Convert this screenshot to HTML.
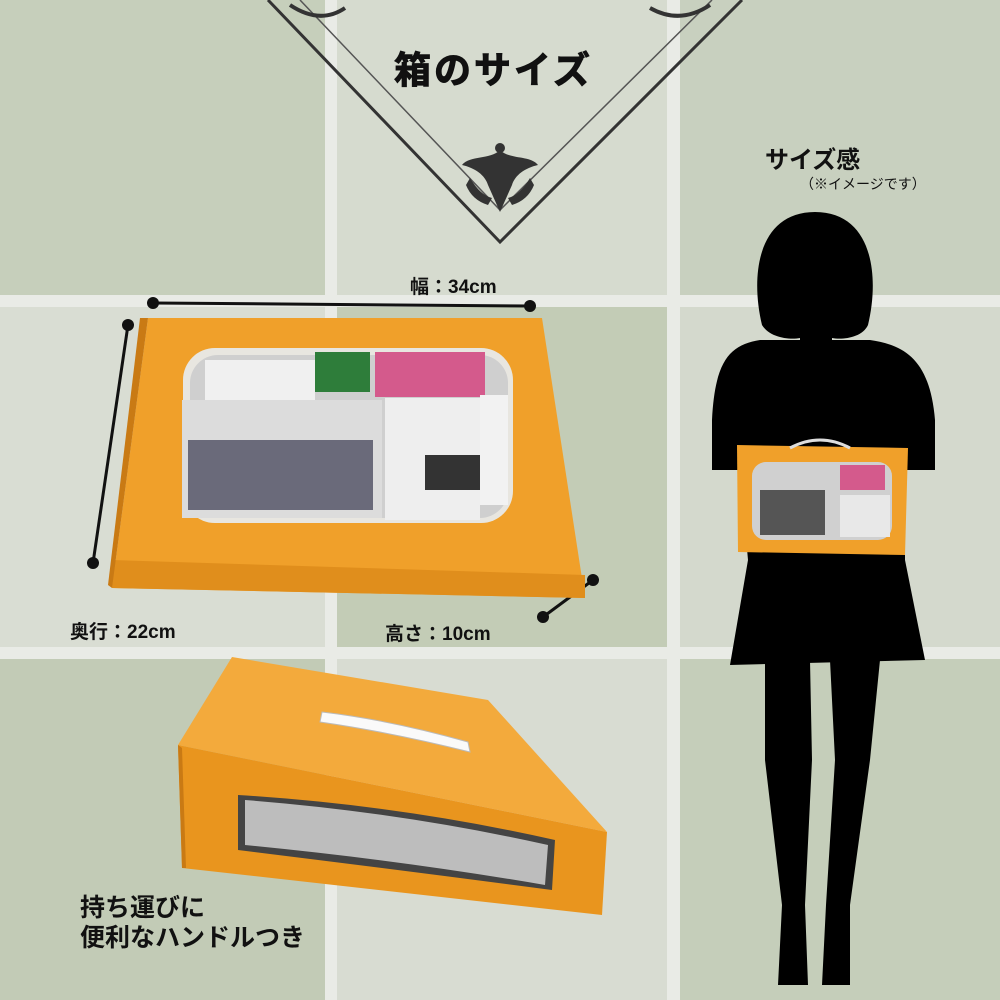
<!DOCTYPE html>
<html><head><meta charset="utf-8"><style>
html,body{margin:0;padding:0}
body{width:1000px;height:1000px;position:relative;overflow:hidden;background:#e9ebe6;font-family:"Liberation Sans","Noto Sans CJK JP",sans-serif}
.t{position:absolute}
.lbl{position:absolute;font-weight:bold;color:#111;white-space:nowrap}
</style></head><body>
<div class="t" style="left:0;top:0;width:325px;height:295px;background:#c6cfbb"></div>
<div class="t" style="left:337px;top:0;width:330px;height:295px;background:#d6dbcf"></div>
<div class="t" style="left:680px;top:0;width:320px;height:295px;background:#c8d0bf"></div>
<div class="t" style="left:0;top:307px;width:325px;height:340px;background:#d9ddd3"></div>
<div class="t" style="left:337px;top:307px;width:330px;height:340px;background:#c3ccb6"></div>
<div class="t" style="left:680px;top:307px;width:320px;height:340px;background:#d4d9cd"></div>
<div class="t" style="left:0;top:659px;width:325px;height:341px;background:#c2cbb6"></div>
<div class="t" style="left:337px;top:659px;width:330px;height:341px;background:#d8dcd2"></div>
<div class="t" style="left:680px;top:659px;width:320px;height:341px;background:#c5ceba"></div>

<svg class="t" style="left:0;top:0" width="1000" height="1000" viewBox="0 0 1000 1000">
 <polyline points="268,0 500,242 742,0" fill="none" stroke="#333" stroke-width="3"/>
 <polyline points="300,0 500,210 712,0" fill="none" stroke="#555" stroke-width="1.5"/>
 <g fill="#333">
  <path d="M500,150 C490,160 470,155 462,165 C475,168 485,175 488,185 L500,212 L512,185 C515,175 525,168 538,165 C530,155 510,160 500,150Z"/>
  <circle cx="500" cy="148" r="5"/>
  <path d="M470,178 Q480,195 492,198 L488,205 Q472,200 466,185Z"/>
  <path d="M530,178 Q520,195 508,198 L512,205 Q528,200 534,185Z"/>
 </g>
 <path d="M290,5 Q320,25 345,8 M650,8 Q680,25 710,5" stroke="#333" stroke-width="4" fill="none"/>
 <line x1="153" y1="303" x2="530" y2="306" stroke="#111" stroke-width="3"/>
 <circle cx="153" cy="303" r="6" fill="#111"/><circle cx="530" cy="306" r="6" fill="#111"/>
 <line x1="128" y1="325" x2="93" y2="563" stroke="#111" stroke-width="3"/>
 <circle cx="128" cy="325" r="6" fill="#111"/><circle cx="93" cy="563" r="6" fill="#111"/>
 <line x1="593" y1="580" x2="543" y2="617" stroke="#111" stroke-width="3"/>
 <circle cx="593" cy="580" r="6" fill="#111"/><circle cx="543" cy="617" r="6" fill="#111"/>
 <polygon points="148,318 542,318 585,598 112,588" fill="#f0a02a"/>
 <polygon points="112,560 585,575 585,598 112,588" fill="#e08e1c"/>
 <polygon points="112,588 148,318 140,318 108,585" fill="#c97a14"/>
 <rect x="183" y="348" width="330" height="175" rx="32" fill="#e8e6e0"/>
 <rect x="190" y="355" width="318" height="163" rx="28" fill="#cfcfcf"/>
 <rect x="205" y="360" width="110" height="45" fill="#f0f0f0"/>
 <rect x="315" y="352" width="55" height="40" fill="#2e7d3a"/>
 <rect x="375" y="352" width="110" height="45" fill="#d45a8c"/>
 <rect x="182" y="400" width="200" height="118" fill="#dcdcdc"/>
 <rect x="188" y="440" width="185" height="70" fill="#6a6a7a"/>
 <rect x="385" y="398" width="95" height="122" fill="#eeeeee"/>
 <rect x="480" y="395" width="28" height="110" fill="#f2f2f2"/>
 <rect x="425" y="455" width="55" height="35" fill="#333"/>
 <!-- box 2 -->
 <polygon points="232,657 488,700 607,832 178,745" fill="#f3aa3c"/>
 <polygon points="178,745 607,832 602,915 182,868" fill="#e9951e"/>
 <polygon points="178,745 182,868 186,868 182,748" fill="#c97a14"/>
 <path d="M322,712 Q390,720 468,742 L470,752 Q390,732 320,722Z" fill="#fafafa" stroke="#bbb"/>
 <path d="M238,795 Q400,805 555,840 L552,890 Q400,870 238,850Z" fill="#444"/>
 <path d="M245,800 Q400,812 548,845 L545,885 Q400,860 245,845Z" fill="#bdbdbd"/>
 <g fill="#000">
  <path d="M815,212 C758,212 750,275 762,325 C770,338 790,340 800,338 L800,345 L832,345 L832,338 C842,340 862,338 868,325 C880,275 872,212 815,212Z"/>
  <path d="M760,340 L870,340 C905,345 930,360 935,420 L935,470 L905,470 L905,560 L925,660 L730,665 L748,560 L740,470 L712,470 L712,420 C715,360 730,345 760,340Z"/>
  <path d="M765,660 L810,660 L812,760 L805,905 L808,985 L778,985 L782,905 L765,760Z"/>
  <path d="M830,660 L880,660 L870,760 L850,905 L850,985 L822,985 L826,905 L835,760Z"/>
 </g>
 <polygon points="737,445 908,448 905,555 738,552" fill="#f0a02a"/>
 <rect x="752" y="462" width="140" height="78" rx="14" fill="#d0d0d0"/>
 <rect x="760" y="490" width="65" height="45" fill="#555"/>
 <rect x="840" y="465" width="45" height="25" fill="#d45a8c"/>
 <rect x="840" y="495" width="50" height="42" fill="#e8e8e8"/>
 <path d="M790,448 Q820,432 850,448" fill="none" stroke="#ddd" stroke-width="3"/>
</svg>

<div class="lbl" style="left:394px;top:40px;font-size:37px;letter-spacing:3px;-webkit-text-stroke:1px #111">箱のサイズ</div>
<div class="lbl" style="left:765px;top:140px;font-size:24px">サイズ感</div>
<div class="lbl" style="left:800px;top:174px;font-size:14px;font-weight:normal">（※イメージです）</div>
<div class="lbl" style="left:410px;top:272px;font-size:19px">幅：34cm</div>
<div class="lbl" style="left:70px;top:617px;font-size:19px">奥行：22cm</div>
<div class="lbl" style="left:385px;top:619px;font-size:19px">高さ：10cm</div>
<div class="lbl" style="left:80px;top:893px;font-size:25px;line-height:30px">持ち運びに<br>便利なハンドルつき</div>
</body></html>
